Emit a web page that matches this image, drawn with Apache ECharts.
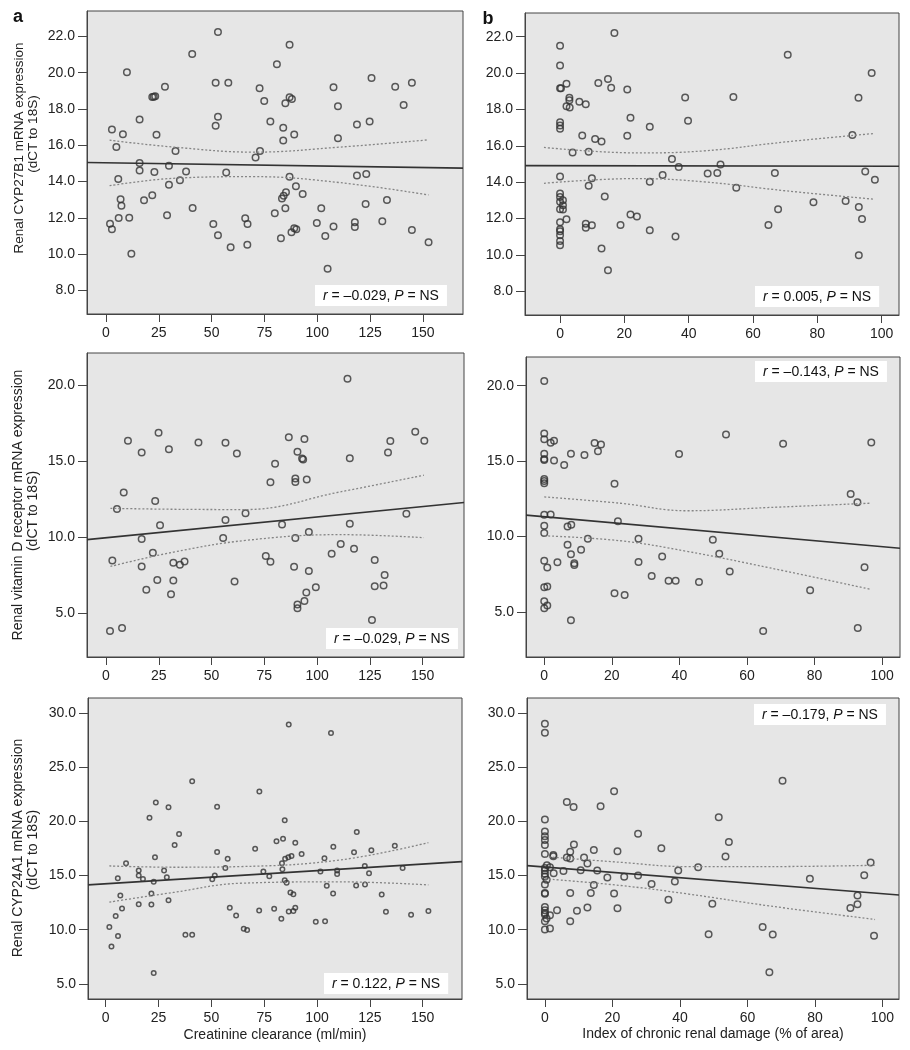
<!DOCTYPE html>
<html>
<head>
<meta charset="utf-8">
<title>Renal expression vs clearance and damage</title>
<script src="https://cdn.jsdelivr.net/npm/echarts@6/dist/echarts.min.js"></script>
<style>
  html, body { margin: 0; padding: 0; background: #fff; }
  #chart { width: 910px; height: 1050px; }
</style>
</head>
<body>
<div id="chart"></div>
<script>
// tick values
const clearanceTicks = [0, 25, 50, 75, 100, 125, 150];
const damageTicks = [0, 20, 40, 60, 80, 100];
const cyp27Ticks = [8, 10, 12, 14, 16, 18, 20, 22];
const vdrTicks = [5, 10, 15, 20];
const cyp24Ticks = [5, 10, 15, 20, 25, 30];

// a, top: CYP27B1 vs creatinine clearance
const cyp27Clearance = [[53.0,22.24],[86.9,21.54],[40.8,21.03],[80.9,20.46],[9.9,20.02],[51.9,19.45],[57.9,19.45],[125.7,19.71],[144.8,19.45],[136.9,19.23],[107.7,19.20],[27.9,19.23],[72.7,19.14],[21.9,18.66],[22.6,18.68],[23.3,18.70],[74.9,18.44],[86.9,18.65],[88.0,18.55],[84.9,18.32],[109.8,18.15],[140.9,18.22],[15.9,17.42],[53.0,17.57],[51.9,17.07],[77.8,17.31],[83.9,16.96],[118.8,17.14],[124.8,17.31],[2.8,16.87],[8.0,16.61],[23.9,16.58],[89.1,16.59],[109.8,16.39],[83.9,16.26],[4.9,15.90],[32.9,15.68],[72.9,15.68],[70.8,15.33],[15.9,15.02],[15.9,14.61],[29.8,14.87],[22.9,14.52],[37.9,14.56],[56.9,14.50],[86.9,14.27],[118.8,14.34],[123.2,14.41],[5.8,14.14],[35.0,14.07],[29.8,13.83],[89.9,13.74],[93.1,13.31],[85.2,13.41],[84.1,13.22],[83.3,13.06],[6.9,13.02],[7.3,12.67],[21.9,13.24],[18.0,12.97],[133.0,12.98],[122.9,12.76],[41.0,12.54],[84.9,12.53],[101.9,12.53],[79.9,12.25],[28.9,12.14],[6.0,11.99],[11.0,12.01],[65.9,11.98],[1.9,11.68],[2.8,11.37],[50.8,11.66],[67.0,11.66],[99.8,11.72],[117.8,11.76],[117.8,11.50],[107.7,11.52],[130.8,11.81],[89.1,11.43],[90.1,11.37],[87.8,11.21],[144.8,11.33],[53.0,11.04],[103.8,11.00],[82.8,10.88],[152.7,10.66],[59.0,10.38],[66.9,10.51],[12.0,10.02],[104.9,9.19]];
const cyp27ClearanceFit = [[-9.0,15.05],[169.0,14.74]];
const cyp27ClearanceUpper = [[1.7,16.28],[32,15.90],[69.9,15.62],[110.9,15.90],[152.7,16.30]];
const cyp27ClearanceLower = [[1.7,13.77],[32,14.18],[69.9,14.27],[110.9,13.94],[152.7,13.26]];

// b, top: CYP27B1 vs chronic damage
const cyp27Damage = [[16.9,22.20],[0,21.50],[0,20.42],[70.8,21.01],[96.9,20.00],[0,19.17],[0.3,19.17],[2.0,19.41],[11.9,19.45],[14.9,19.67],[15.9,19.19],[20.9,19.10],[2.9,18.64],[2.9,18.51],[2.0,18.18],[3.0,18.11],[6.0,18.42],[8.0,18.29],[38.9,18.66],[53.9,18.68],[92.8,18.64],[21.9,17.54],[39.8,17.38],[27.9,17.05],[0,17.30],[0,17.12],[0,16.94],[6.9,16.57],[10.9,16.37],[12.9,16.24],[20.9,16.55],[90.9,16.59],[3.9,15.63],[8.9,15.67],[34.8,15.28],[36.9,14.84],[49.9,14.97],[0,14.31],[31.9,14.39],[45.9,14.48],[48.9,14.51],[66.8,14.50],[94.9,14.59],[97.9,14.13],[9.9,14.22],[8.9,13.80],[27.9,14.02],[54.8,13.69],[0,13.38],[0,13.19],[13.9,13.21],[0.9,13.01],[0,12.92],[0.9,12.73],[0,12.51],[0.9,12.50],[78.8,12.90],[88.8,12.97],[92.9,12.64],[67.8,12.51],[2.0,11.96],[93.9,11.98],[21.9,12.22],[23.9,12.11],[0,11.80],[8.0,11.72],[8.0,11.49],[9.9,11.63],[18.8,11.65],[64.8,11.65],[0,11.41],[0,11.30],[27.9,11.36],[0,11.08],[35.9,11.01],[0,10.77],[0,10.53],[12.9,10.35],[92.9,9.98],[14.9,9.16]];
const cyp27DamageFit = [[-10.9,14.91],[105.4,14.88]];
const cyp27DamageUpper = [[-5,15.91],[24,15.61],[44.7,15.72],[70.5,16.22],[97.9,16.68]];
const cyp27DamageLower = [[-5,13.94],[24,14.20],[44.7,14.02],[70.5,13.52],[97.9,13.06]];

// a, middle: VDR vs creatinine clearance
const vdrClearance = [[114.4,20.40],[146.5,16.92],[150.8,16.33],[134.7,16.31],[133.6,15.56],[115.5,15.18],[10.4,16.33],[16.9,15.56],[24.9,16.86],[29.8,15.76],[43.8,16.22],[56.6,16.20],[62.0,15.49],[86.6,16.55],[94.0,16.44],[90.7,15.60],[92.9,15.16],[93.4,15.10],[80.1,14.81],[77.9,13.60],[89.7,13.84],[89.7,13.62],[95.1,13.78],[8.4,12.92],[5.2,11.84],[23.3,12.37],[66.1,11.55],[142.3,11.53],[56.6,11.11],[25.6,10.76],[83.4,10.81],[115.5,10.87],[96.1,10.32],[16.9,9.86],[55.5,9.93],[89.7,9.93],[111.2,9.53],[106.9,8.89],[117.5,9.22],[22.2,8.96],[3.0,8.45],[31.9,8.30],[35.0,8.17],[37.2,8.39],[75.7,8.74],[77.9,8.37],[127.3,8.48],[16.9,8.06],[89.1,8.04],[96.1,7.75],[132.0,7.49],[24.3,7.16],[31.9,7.13],[60.9,7.07],[19.1,6.52],[30.8,6.23],[127.3,6.76],[131.5,6.80],[99.4,6.69],[94.9,6.34],[94.0,5.79],[90.7,5.55],[90.7,5.31],[126.0,4.54],[1.9,3.81],[7.6,4.01]];
const vdrClearanceFit = [[-9.0,9.82],[169.6,12.26]];
const vdrClearanceUpper = [[2.1,11.88],[32,11.82],[66.1,11.80],[110.9,12.96],[150.6,14.06]];
const vdrClearanceLower = [[2.1,8.06],[32,9.00],[66.1,9.77],[110.9,10.15],[150.6,9.95]];

// b, middle: VDR vs chronic damage
const vdrDamage = [[0,20.31],[0,16.83],[0,16.45],[1.9,16.21],[2.9,16.34],[0,15.48],[0,15.13],[0,15.07],[2.9,15.04],[5.9,14.74],[7.9,15.48],[11.9,15.40],[14.9,16.19],[16.8,16.10],[15.9,15.64],[0,13.81],[0,13.68],[0,13.52],[0,11.43],[1.9,11.45],[0,10.70],[0,10.22],[6.9,10.66],[8.0,10.77],[6.9,9.45],[12.9,9.85],[7.9,8.81],[10.9,9.12],[0,8.39],[3.9,8.28],[0.9,7.93],[8.9,8.22],[8.9,8.11],[0,6.63],[0.9,6.67],[0,5.70],[0,5.24],[0.9,5.42],[7.9,4.43],[20.8,13.50],[21.8,11.01],[20.8,6.23],[23.8,6.12],[27.9,9.85],[27.9,8.30],[31.8,7.38],[34.9,8.66],[36.8,7.05],[38.9,7.05],[39.9,15.46],[45.8,6.98],[49.9,9.78],[51.8,8.85],[54.9,7.67],[53.8,16.76],[70.7,16.15],[78.7,6.43],[64.8,3.72],[90.7,12.82],[92.7,12.27],[92.8,3.92],[94.8,7.95],[96.8,16.23]];
const vdrDamageFit = [[-5.4,11.41],[105.3,9.21]];
const vdrDamageUpper = [[0,12.62],[22.5,12.20],[42.2,11.70],[66.8,11.92],[96.4,12.20]];
const vdrDamageLower = [[0,10.04],[22.5,9.71],[42.2,9.01],[66.8,7.91],[96.8,6.48]];

// a, bottom: CYP24A1 vs creatinine clearance
const cyp24Clearance = [[86.6,28.96],[106.6,28.16],[40.9,23.71],[72.7,22.76],[23.7,21.75],[29.7,21.32],[52.7,21.35],[20.7,20.34],[84.7,20.12],[118.8,19.02],[34.7,18.83],[80.8,18.16],[83.9,18.40],[89.7,18.04],[32.6,17.82],[107.7,17.67],[136.8,17.76],[70.7,17.48],[52.7,17.18],[117.5,17.15],[125.7,17.33],[92.7,17.00],[87.9,16.81],[86.4,16.69],[84.9,16.56],[83.4,16.13],[103.5,16.60],[23.3,16.69],[57.7,16.56],[9.6,16.13],[56.6,15.71],[83.6,15.58],[140.5,15.71],[15.6,15.46],[27.6,15.46],[74.6,15.37],[101.6,15.37],[109.5,15.46],[109.5,15.15],[122.6,15.89],[124.6,15.21],[15.6,15.00],[51.6,15.00],[77.4,14.94],[28.9,14.85],[17.6,14.69],[50.4,14.66],[5.7,14.75],[84.7,14.57],[22.7,14.42],[85.6,14.33],[104.6,14.05],[118.5,14.08],[122.7,14.17],[21.6,13.34],[87.4,13.44],[88.8,13.28],[107.6,13.34],[130.6,13.25],[6.9,13.16],[29.7,12.73],[7.7,11.96],[15.6,12.36],[21.6,12.33],[58.7,12.02],[89.7,12.02],[79.7,11.93],[132.6,11.66],[152.7,11.72],[72.6,11.78],[86.6,11.69],[88.8,11.72],[61.7,11.32],[4.7,11.26],[144.5,11.38],[83.1,11.01],[99.4,10.74],[103.8,10.77],[1.7,10.25],[65.3,10.09],[66.9,9.97],[5.8,9.42],[37.7,9.54],[40.9,9.54],[2.7,8.44],[22.7,6.01]];
const cyp24ClearanceFit = [[-8.4,14.14],[168.6,16.29]];
const cyp24ClearanceUpper = [[1.7,15.89],[32,15.77],[63.6,15.83],[110.9,16.44],[152.7,18.04]];
const cyp24ClearanceLower = [[1.7,12.55],[32,13.44],[63.6,14.29],[110.9,14.42],[152.7,14.14]];

// b, bottom: CYP24A1 vs chronic damage
const cyp24Damage = [[0,29.02],[0,28.19],[70.4,23.76],[20.5,22.78],[6.5,21.80],[8.5,21.34],[16.5,21.40],[0,20.18],[51.5,20.39],[0,19.08],[27.6,18.86],[0,18.62],[0,18.28],[0,17.82],[8.6,17.88],[54.5,18.10],[34.5,17.52],[14.5,17.36],[7.5,17.21],[21.5,17.24],[0,17.00],[2.5,16.90],[2.5,16.78],[6.5,16.66],[7.5,16.57],[11.6,16.66],[53.5,16.75],[12.6,16.11],[0.6,15.95],[0,15.71],[1.5,15.77],[45.4,15.77],[96.5,16.20],[0,15.47],[5.5,15.43],[10.6,15.50],[15.5,15.47],[39.5,15.47],[0,15.16],[2.6,15.22],[0,14.91],[23.5,14.88],[27.6,15.00],[94.6,15.04],[18.5,14.82],[78.5,14.70],[0.5,14.61],[38.5,14.45],[0,14.18],[31.6,14.21],[14.5,14.12],[0,13.38],[0,13.32],[7.5,13.38],[13.6,13.38],[20.5,13.35],[92.6,13.17],[36.6,12.77],[49.6,12.40],[92.6,12.34],[0,12.10],[12.6,12.04],[21.5,11.98],[90.5,12.01],[0,11.79],[3.6,11.79],[9.5,11.76],[0,11.55],[1.5,11.33],[0,11.40],[0.5,11.03],[0,10.78],[7.5,10.78],[0,10.02],[1.5,10.11],[64.5,10.26],[48.5,9.59],[67.5,9.56],[97.5,9.44],[66.5,6.07]];
const cyp24DamageFit = [[-5.3,15.92],[104.9,13.20]];
const cyp24DamageUpper = [[0,16.75],[22.2,16.23],[41.9,15.83],[66.7,15.83],[97.8,15.95]];
const cyp24DamageLower = [[0,14.70],[22.2,14.09],[41.9,13.32],[66.7,12.19],[97.8,10.94]];

const stats = ["–0.029", "0.005", "–0.029", "–0.143", "0.122", "–0.179"];

const FONT = "'Liberation Sans', Arial, Helvetica, sans-serif";
const INK = "#222";
const FRAME = "#444";

const panels = [
  {grid: {left: 87, top: 11, width: 376, height: 303}, x: [-9.0, 169.0], y: [6.7, 23.4],
   xTicks: clearanceTicks, yTicks: cyp27Ticks, points: cyp27Clearance, fit: cyp27ClearanceFit,
   upper: cyp27ClearanceUpper, lower: cyp27ClearanceLower, size: 6.5, box: [315, 285]},
  {grid: {left: 525, top: 13, width: 374, height: 302}, x: [-10.9, 105.4], y: [6.7, 23.3],
   xTicks: damageTicks, yTicks: cyp27Ticks, points: cyp27Damage, fit: cyp27DamageFit,
   upper: cyp27DamageUpper, lower: cyp27DamageLower, size: 6.5, box: [755, 286]},
  {grid: {left: 87, top: 353, width: 377, height: 304}, x: [-9.0, 169.6], y: [2.1, 22.1],
   xTicks: clearanceTicks, yTicks: vdrTicks, points: vdrClearance, fit: vdrClearanceFit,
   upper: vdrClearanceUpper, lower: vdrClearanceLower, size: 6.5, box: [326, 628]},
  {grid: {left: 526, top: 357, width: 374, height: 300}, x: [-5.4, 105.3], y: [2.0, 21.9],
   xTicks: damageTicks, yTicks: vdrTicks, points: vdrDamage, fit: vdrDamageFit,
   upper: vdrDamageUpper, lower: vdrDamageLower, size: 6.5, box: [755, 361]},
  {grid: {left: 88, top: 698, width: 374, height: 301}, x: [-8.4, 168.6], y: [3.6, 31.4],
   xTicks: clearanceTicks, yTicks: cyp24Ticks, points: cyp24Clearance, fit: cyp24ClearanceFit,
   upper: cyp24ClearanceUpper, lower: cyp24ClearanceLower, size: 4.5, box: [324, 973]},
  {grid: {left: 527, top: 698, width: 372, height: 301}, x: [-5.3, 104.9], y: [3.6, 31.4],
   xTicks: damageTicks, yTicks: cyp24Ticks, points: cyp24Damage, fit: cyp24DamageFit,
   upper: cyp24DamageUpper, lower: cyp24DamageLower, size: 6.5, box: [754, 704]}
];

const grids = [];
const xAxes = [];
const yAxes = [];
const series = [];
const graphics = [];

panels.forEach((p, i) => {
  grids.push(Object.assign({show: true, backgroundColor: "#e6e6e6", borderColor: FRAME, borderWidth: 1}, p.grid));
  xAxes.push({
    type: "value", gridIndex: i, min: p.x[0], max: p.x[1],
    axisLine: {show: true, onZero: false, lineStyle: {color: FRAME, width: 1}},
    axisTick: {show: true, length: 8, customValues: p.xTicks, lineStyle: {color: FRAME}},
    axisLabel: {customValues: p.xTicks, margin: 12, fontSize: 14, color: INK, fontFamily: FONT},
    splitLine: {show: false}
  });
  yAxes.push({
    type: "value", gridIndex: i, min: p.y[0], max: p.y[1],
    axisLine: {show: true, onZero: false, lineStyle: {color: FRAME, width: 1}},
    axisTick: {show: true, length: 9, customValues: p.yTicks, lineStyle: {color: FRAME}},
    axisLabel: {customValues: p.yTicks, margin: 12, fontSize: 14, color: INK, fontFamily: FONT,
      formatter: (v) => v.toFixed(1)},
    splitLine: {show: false}
  });
  series.push({
    type: "scatter", xAxisIndex: i, yAxisIndex: i, data: p.points, symbol: "circle", symbolSize: p.size,
    itemStyle: {color: "rgba(0,0,0,0)", borderColor: "#333", borderWidth: 1.5}, z: 3
  });
  series.push({
    type: "line", xAxisIndex: i, yAxisIndex: i, data: p.fit, symbol: "none",
    lineStyle: {color: "#333", width: 1.6}, z: 4
  });
  [p.upper, p.lower].forEach((band) => {
    series.push({
      type: "line", xAxisIndex: i, yAxisIndex: i, data: band, symbol: "none", smooth: 0.4,
      lineStyle: {color: "#858585", width: 1.3, type: [2, 2]}, z: 4
    });
  });
  graphics.push({
    type: "text", left: p.box[0], top: p.box[1], z: 10,
    style: {
      text: "{i|r} = " + stats[i] + ", {i|P} = NS",
      rich: {i: {fontStyle: "italic", fontSize: 14, fontFamily: FONT, fill: "#111"}},
      fontSize: 14, fontFamily: FONT, fill: "#111",
      backgroundColor: "#fff", padding: [4, 8, 3, 8]
    }
  });
});

// y titles, x titles, panel letters
const vText = (text, x, y, size) => ({
  type: "text", x: x, y: y, rotation: Math.PI / 2,
  style: {text: text, fontSize: size, fontFamily: FONT, fill: INK, align: "center", verticalAlign: "middle"}
});
graphics.push(vText("Renal CYP27B1 mRNA expression", 19, 148, 13.5));
graphics.push(vText("(dCT to 18S)", 33, 134, 13.5));
graphics.push(vText("Renal vitamin D receptor mRNA expression", 18, 505, 14));
graphics.push(vText("(dCT to 18S)", 33, 511, 14));
graphics.push(vText("Renal CYP24A1 mRNA expression", 18, 848, 14));
graphics.push(vText("(dCT to 18S)", 33, 850, 14));
graphics.push({type: "text", x: 275, y: 1035,
  style: {text: "Creatinine clearance (ml/min)", fontSize: 14, fontFamily: FONT, fill: INK, align: "center", verticalAlign: "middle"}});
graphics.push({type: "text", x: 713, y: 1034,
  style: {text: "Index of chronic renal damage (% of area)", fontSize: 14, fontFamily: FONT, fill: INK, align: "center", verticalAlign: "middle"}});
graphics.push({type: "text", x: 18, y: 17,
  style: {text: "a", fontSize: 18, fontWeight: "bold", fontFamily: FONT, fill: "#111", align: "center", verticalAlign: "middle"}});
graphics.push({type: "text", x: 488, y: 19,
  style: {text: "b", fontSize: 18, fontWeight: "bold", fontFamily: FONT, fill: "#111", align: "center", verticalAlign: "middle"}});

const chart = echarts.init(document.getElementById("chart"));
chart.setOption({
  backgroundColor: "#fff",
  animation: false,
  grid: grids,
  xAxis: xAxes,
  yAxis: yAxes,
  series: series,
  graphic: graphics
});
</script>
</body>
</html>
